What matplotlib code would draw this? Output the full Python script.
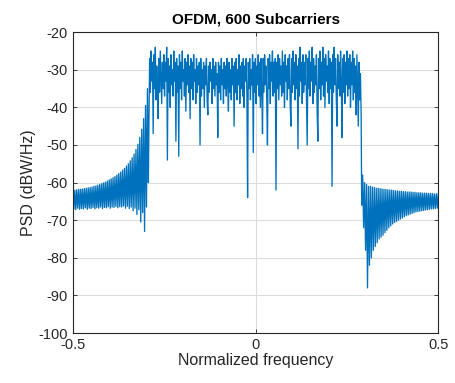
import numpy as np
from matplotlib import pyplot as plt

plt.rcParams['font.family'] = ['Liberation Sans', 'DejaVu Sans']
plt.rcParams['axes.unicode_minus'] = False

# left out-of-band sidelobes: ripple peaks and troughs (dB)
left_peaks = [-62.0, -62.0, -61.9, -61.8, -61.8, -61.7, -61.6, -61.5, -61.4, -61.3,
              -61.2, -61.0, -60.9, -60.7, -60.5, -60.3, -60.1, -59.9, -59.6, -59.3,
              -59.0, -58.7, -58.4, -58.0, -57.6, -57.2, -56.7, -56.2, -55.6, -55.0,
              -54.2, -53.4, -52.4, -51.2, -49.8, -48.0, -45.8, -43.0, -39.5, -35.0]
left_troughs = [-67.0, -67.2, -66.8, -67.1, -66.9, -67.0, -66.7, -67.1, -66.8, -66.9,
                -66.6, -67.0, -66.7, -66.8, -66.5, -66.9, -66.6, -66.7, -66.4, -66.8,
                -66.5, -66.6, -66.3, -66.7, -66.4, -66.5, -66.2, -66.8, -66.3, -66.9,
                -66.5, -67.5, -66.8, -68.5, -67.2, -70.5, -68.0, -73.0, -66.5, -60.0]

# in-band PSD samples (dB)
inband = [
    -44, -27, -36, -25, -33, -28, -47, -26, -35, -24, -38, -29, -34, -43, -27, -36, -25, -32, -39, -28,
    -35, -26, -37, -28, -33, -24, -54, -27, -36, -29, -40, -26, -34, -30, -37, -25, -33, -28, -49, -27,
    -36, -29, -53, -26, -35, -28, -38, -25, -33, -30, -37, -27, -41, -28, -34, -26, -36, -29, -43, -27,
    -35, -28, -38, -26, -33, -30, -39, -27, -36, -29, -34, -28, -50, -27, -37, -30, -35, -28, -40, -29,
    -34, -27, -38, -42, -29, -36, -28, -33, -30, -39, -27, -35, -29, -37, -28, -34, -31, -48, -28, -36,
    -29, -38, -27, -34, -30, -39, -28, -35, -29, -37, -27, -33, -41, -28, -36, -30, -38, -27, -34, -29,
    -45, -28, -36, -27, -38, -30, -34, -26, -39, -29, -35, -28, -37, -27, -40, -29, -33, -27, -36, -64,
    -28, -35, -27, -38, -30, -34, -26, -52, -28, -36, -27, -39, -29, -34, -26, -37, -28, -40, -27, -35,
    -47, -27, -36, -26, -34, -29, -38, -50, -27, -35, -26, -39, -28, -33, -25, -37, -28, -36, -27, -62,
    -28, -35, -26, -38, -27, -34, -29, -37, -25, -36, -28, -40, -26, -33, -29, -38, -27, -35, -26, -39,
    -45, -27, -36, -25, -34, -28, -38, -26, -35, -29, -51, -27, -37, -24, -33, -28, -39, -26, -36, -28,
    -34, -26, -38, -50, -27, -35, -25, -37, -28, -33, -24, -39, -27, -36, -29, -34, -26, -41, -49, -27,
    -35, -25, -38, -28, -34, -24, -37, -27, -40, -26, -33, -29, -36, -25, -39, -27, -35, -28, -61, -26,
    -36, -24, -34, -27, -38, -45, -26, -35, -28, -37, -25, -33, -48, -27, -36, -26, -39, -28, -34, -25,
    -37, -27, -35, -26, -40, -28, -34, -25, -38, -27, -36, -29, -42, -26, -35, -45, -28, -38, -31, -42,
]

# right out-of-band sidelobes
right_peaks = [-58.0, -60.0, -60.5, -61.0, -61.0, -61.2, -61.3, -61.5, -61.5, -61.6,
               -61.7, -61.8, -61.8, -61.9, -62.0, -62.0, -62.1, -62.2, -62.2, -62.3,
               -62.3, -62.4, -62.4, -62.5, -62.5, -62.5, -62.6, -62.6, -62.7, -62.7,
               -62.7, -62.8, -62.8, -62.8, -62.9, -62.9, -62.9, -63.0, -63.0, -63.0]
right_troughs = [-66.0, -72.0, -78.0, -88.0, -82.0, -80.0, -78.0, -77.0, -76.0, -75.0,
                 -74.5, -74.0, -73.3, -72.7, -72.0, -71.5, -71.0, -70.6, -70.3, -70.0,
                 -69.7, -69.4, -69.1, -68.8, -68.6, -68.4, -68.2, -68.0, -67.8, -67.7,
                 -67.6, -67.5, -67.4, -67.3, -67.2, -67.1, -67.0, -67.0, -66.9, -66.8]

left = np.ravel(np.column_stack([left_peaks, left_troughs]))
right = np.ravel(np.column_stack([right_troughs, right_peaks]))

f_left = np.linspace(-0.5, -0.2935, len(left))
f_in = np.linspace(-0.292, 0.289, len(inband))
f_right = np.linspace(0.2905, 0.5, len(right))

f = np.concatenate([f_left, f_in, f_right])
psd = np.concatenate([left, inband, right])

fig = plt.figure(figsize=(4.56, 3.83), dpi=100)
ax = fig.add_axes([0.160, 0.1305, 0.801, 0.7855])

ax.plot(f, psd, color='#0072BD', linewidth=0.95)

ax.set_xlim(-0.5, 0.5)
ax.set_ylim(-100, -20)
ax.set_xticks([-0.5, 0, 0.5])
ax.set_xticklabels(['-0.5', '0', '0.5'])
ax.set_yticks(np.arange(-100, -19, 10))

ax.grid(True, color='#dcdcdc', linewidth=0.8)
ax.set_axisbelow(True)
for s in ax.spines.values():
    s.set_color('#262626')
    s.set_linewidth(0.8)
ax.tick_params(direction='in', length=3, width=0.6, colors='#262626',
               labelsize=10.5, top=True, right=True)

ax.set_title('OFDM, 600 Subcarriers', fontsize=11, fontweight='bold', pad=6)
ax.set_xlabel('Normalized frequency', fontsize=11.5, color='#262626', labelpad=1)
ax.set_ylabel('PSD (dBW/Hz)', fontsize=11.5, color='#262626', labelpad=2)

fig.savefig('out.png', dpi=100)
